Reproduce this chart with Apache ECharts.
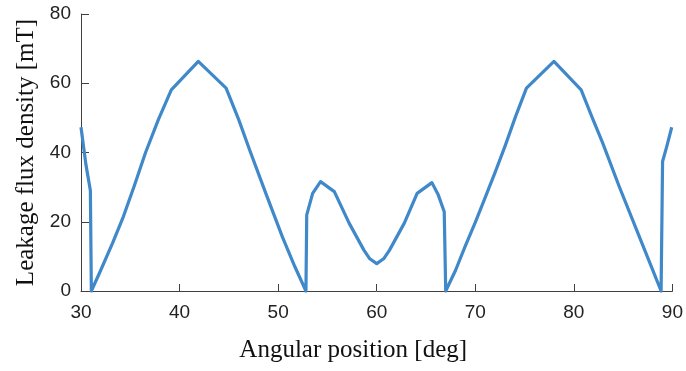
<!DOCTYPE html>
<html>
<head>
<meta charset="utf-8">
<script src="https://cdn.jsdelivr.net/npm/echarts@6/dist/echarts.min.js"></script>
<style>
  html, body { margin: 0; padding: 0; background: #ffffff; }
  #chart { width: 686px; height: 371px; }
</style>
</head>
<body>
<div id="chart"></div>
<script>
// Angular position [deg]
const angle = [
  30.0, 30.5, 30.95, 31.05, 32.0, 33.2, 34.3, 35.4, 36.55, 37.85, 39.16,
  41.9, 44.72, 46.0, 47.1, 48.75, 50.45, 51.7, 52.82,
  52.9, 53.5, 54.3, 55.7, 57.2, 58.7, 59.3, 60.0, 60.7, 61.3, 62.8, 64.1, 65.6, 66.25, 66.85,
  67.0, 68.0, 68.96, 70.0, 70.98, 72.0, 73.0, 74.1, 75.19,
  77.98, 80.74, 81.8, 82.93, 84.61, 86.64, 87.8, 88.85,
  89.0, 89.4, 89.93
];

// Leakage flux density [mT]
const flux = [
  47.3, 36.5, 29.0, 0.0, 6.0, 13.8, 21.5, 30.3, 40.0, 49.5, 58.1,
  66.3, 58.6, 49.5, 40.8, 28.2, 15.5, 7.0, 0.0,
  22.0, 28.2, 31.6, 28.7, 19.6, 11.8, 9.3, 7.9, 9.3, 11.8, 19.6, 28.2, 31.3, 27.7, 22.9,
  0.0, 6.0, 12.8, 19.8, 26.8, 34.2, 41.7, 50.5, 58.6,
  66.3, 58.1, 50.5, 42.7, 30.1, 15.7, 7.5, 0.0,
  37.4, 41.5, 47.3
];

const xTicks = { min: 30, max: 90, step: 10 };
const yTicks = { min: 0, max: 80, step: 20 };

const points = angle.map((a, i) => [a, flux[i]]);

const axisColor = '#404040';
const labelFont = { fontFamily: "'Liberation Sans', Arial, sans-serif", fontSize: 19, color: '#222222' };
const titleFont = { fontFamily: "'Liberation Serif', 'Times New Roman', serif", fontSize: 25, color: '#111111' };

const chart = echarts.init(document.getElementById('chart'), null, { renderer: 'canvas' });
chart.setOption({
  animation: false,
  backgroundColor: '#ffffff',
  grid: { left: 81, right: 12, top: 14, bottom: 80 },
  xAxis: {
    type: 'value',
    min: xTicks.min, max: xTicks.max, interval: xTicks.step,
    name: 'Angular position [deg]',
    nameLocation: 'middle',
    nameGap: 47,
    nameTextStyle: Object.assign({ padding: [0, 47, 0, 0] }, titleFont),
    axisLine: { show: true, lineStyle: { color: axisColor, width: 1 } },
    axisTick: { show: true, inside: true, length: 7, lineStyle: { color: axisColor } },
    axisLabel: Object.assign({ margin: 12 }, labelFont),
    splitLine: { show: false }
  },
  yAxis: {
    type: 'value',
    min: yTicks.min, max: yTicks.max, interval: yTicks.step,
    name: 'Leakage flux density [mT]',
    nameLocation: 'middle',
    nameGap: 42,
    nameTextStyle: titleFont,
    axisLine: { show: true, lineStyle: { color: axisColor, width: 1 } },
    axisTick: { show: true, inside: true, length: 8, lineStyle: { color: axisColor } },
    axisLabel: Object.assign({ margin: 10 }, labelFont),
    splitLine: { show: false }
  },
  series: [{
    type: 'line',
    data: points,
    showSymbol: false,
    smooth: false,
    lineStyle: { color: '#3f88c9', width: 3.2, join: 'round' },
    clip: false
  }]
});
</script>
</body>
</html>
